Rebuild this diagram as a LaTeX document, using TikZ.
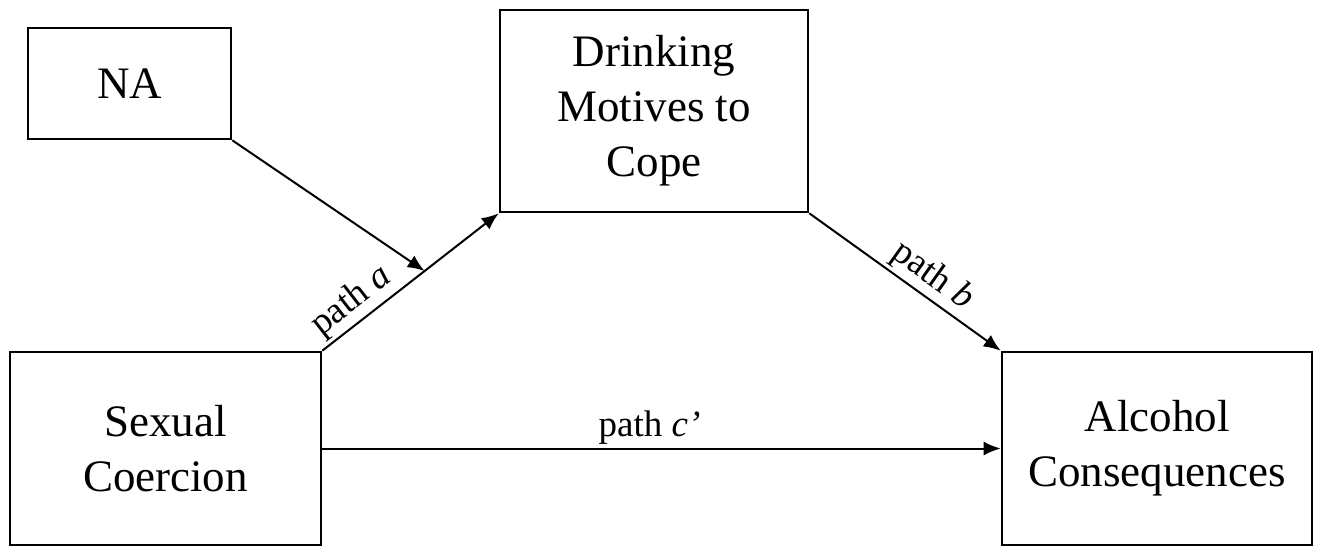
\documentclass[tikz,border=0pt]{standalone}
\usepackage{fontspec}
\setmainfont{Liberation Serif}
\usetikzlibrary{arrows.meta}
\begin{document}
\begin{tikzpicture}[x=1pt,y=1pt,
    box/.style={draw,line width=1.3pt,align=center,font=\fontsize{22.5}{27.5}\selectfont,inner sep=0pt},
    link/.style={line width=1pt,-{Latex[length=8.5pt,width=7pt]}},
    lab/.style={font=\fontsize{18.5}{22}\selectfont,inner sep=1.5pt}]
    \useasboundingbox (0,0) rectangle (660,276.5);
    \node[box,minimum width=101.5pt,minimum height=55.5pt] (na) at (64.75,234.75) {NA};
    \node[box,minimum width=154pt,minimum height=101pt] (motives) at (327,221) {Drinking\\Motives to\\Cope};
    \node[box,minimum width=155.5pt,minimum height=96.5pt] (coercion) at (82.75,52.25) {Sexual\\Coercion};
    \node[box,minimum width=155pt,minimum height=96.5pt] (conseq) at (578.5,52.25) {Alcohol\\Consequences};
    % mediation paths
    \draw[link] (coercion.north east) -- node[lab,pos=.24,above,sloped] {path \textit{a}} (motives.south west)
        coordinate[pos=.58] (mod);
    \draw[link] (motives.south east) -- node[lab,pos=.58,above,sloped] {path \textit{b}} (conseq.north west);
    \draw[link] (coercion.east) -- node[lab,above,xshift=-6pt] {path \textit{c’}} (conseq.west);
    % moderator
    \draw[link] (na.south east) -- (mod);
\end{tikzpicture}
\end{document}
